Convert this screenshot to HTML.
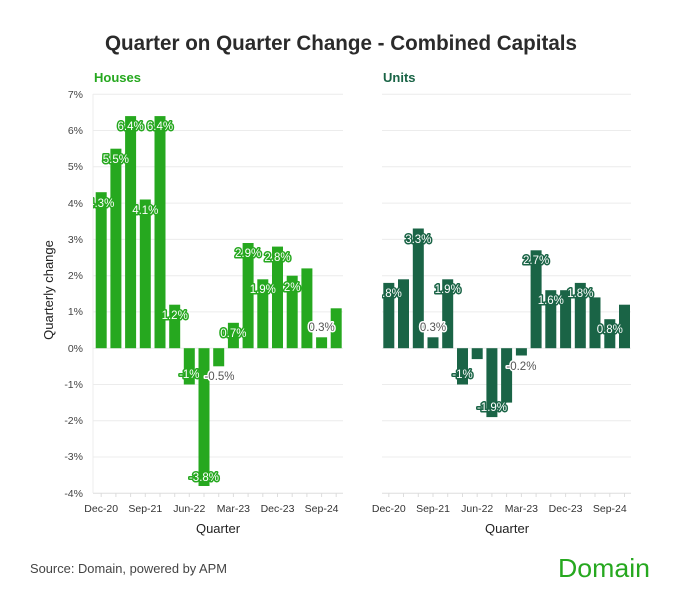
<!DOCTYPE html>
<html><head><meta charset="utf-8"><style>
html,body{margin:0;padding:0;background:#fff;}
svg{display:block;font-family:"Liberation Sans",sans-serif;}
.yt{font-size:10.5px;fill:#444;text-anchor:end;}
.xt{font-size:10.5px;fill:#333;text-anchor:middle;}
.g{stroke:#ececec;stroke-width:1;}
.lh{font-size:11.5px;fill:#fff;stroke:#26a81f;stroke-width:3;paint-order:stroke;stroke-linejoin:round;text-anchor:middle;}
.lu{font-size:11.5px;fill:#fff;stroke:#1a6446;stroke-width:3;paint-order:stroke;stroke-linejoin:round;text-anchor:middle;}
.lg{font-size:11.5px;fill:#555;stroke:#fff;stroke-width:3;paint-order:stroke;stroke-linejoin:round;text-anchor:middle;}
</style></head><body>
<svg width="673" height="596" viewBox="0 0 673 596">
<defs>
<clipPath id="cl"><rect x="93" y="85" width="252" height="420"/></clipPath>
<clipPath id="cr"><rect x="382" y="85" width="252" height="420"/></clipPath>
</defs>
<text x="341" y="50" font-size="21" font-weight="bold" fill="#2b2b2b" text-anchor="middle" textLength="472" lengthAdjust="spacingAndGlyphs">Quarter on Quarter Change - Combined Capitals</text>
<text x="94" y="82" font-size="13" font-weight="bold" fill="#26a81f">Houses</text>
<text x="383" y="82" font-size="13" font-weight="bold" fill="#1a6446">Units</text>

<g class="g">
<line x1="93" x2="343" y1="94.3" y2="94.3"/><line x1="93" x2="343" y1="130.5" y2="130.5"/><line x1="93" x2="343" y1="166.8" y2="166.8"/><line x1="93" x2="343" y1="203.1" y2="203.1"/><line x1="93" x2="343" y1="239.4" y2="239.4"/><line x1="93" x2="343" y1="275.7" y2="275.7"/><line x1="93" x2="343" y1="311.9" y2="311.9"/><line x1="93" x2="343" y1="348.2" y2="348.2"/><line x1="93" x2="343" y1="384.5" y2="384.5"/><line x1="93" x2="343" y1="420.8" y2="420.8"/><line x1="93" x2="343" y1="457" y2="457"/>
<line x1="382" x2="631" y1="94.3" y2="94.3"/><line x1="382" x2="631" y1="130.5" y2="130.5"/><line x1="382" x2="631" y1="166.8" y2="166.8"/><line x1="382" x2="631" y1="203.1" y2="203.1"/><line x1="382" x2="631" y1="239.4" y2="239.4"/><line x1="382" x2="631" y1="275.7" y2="275.7"/><line x1="382" x2="631" y1="311.9" y2="311.9"/><line x1="382" x2="631" y1="348.2" y2="348.2"/><line x1="382" x2="631" y1="384.5" y2="384.5"/><line x1="382" x2="631" y1="420.8" y2="420.8"/><line x1="382" x2="631" y1="457" y2="457"/>
<line x1="93" x2="93" y1="94" y2="493"/>
</g>
<line x1="93" x2="343" y1="493.3" y2="493.3" stroke="#ddd"/>
<line x1="382" x2="631" y1="493.3" y2="493.3" stroke="#ddd"/>
<g stroke="#ddd">
<path d="M101.2 493v4M115.9 493v4M130.6 493v4M145.3 493v4M160 493v4M174.7 493v4M189.3 493v4M204 493v4M218.7 493v4M233.4 493v4M248.1 493v4M262.8 493v4M277.5 493v4M292.2 493v4M306.9 493v4M321.6 493v4M336.2 493v4"/>
<path d="M388.8 493v4M403.5 493v4M418.3 493v4M433 493v4M447.7 493v4M462.5 493v4M477.2 493v4M491.9 493v4M506.6 493v4M521.4 493v4M536.1 493v4M550.8 493v4M565.6 493v4M580.3 493v4M595 493v4M609.8 493v4M624.5 493v4"/>
</g>

<g>
<text class="yt" x="83" y="98">7%</text><text class="yt" x="83" y="134">6%</text><text class="yt" x="83" y="170">5%</text><text class="yt" x="83" y="207">4%</text><text class="yt" x="83" y="243">3%</text><text class="yt" x="83" y="279">2%</text><text class="yt" x="83" y="315">1%</text><text class="yt" x="83" y="352">0%</text><text class="yt" x="83" y="388">-1%</text><text class="yt" x="83" y="424">-2%</text><text class="yt" x="83" y="460">-3%</text><text class="yt" x="83" y="497">-4%</text>
</g>
<text transform="translate(53,290) rotate(-90)" font-size="13" fill="#222" text-anchor="middle">Quarterly change</text>

<g class="xt">
<text x="101.2" y="512">Dec-20</text><text x="145.3" y="512">Sep-21</text><text x="189.3" y="512">Jun-22</text><text x="233.4" y="512">Mar-23</text><text x="277.5" y="512">Dec-23</text><text x="321.6" y="512">Sep-24</text>
<text x="388.8" y="512">Dec-20</text><text x="433" y="512">Sep-21</text><text x="477.2" y="512">Jun-22</text><text x="521.4" y="512">Mar-23</text><text x="565.6" y="512">Dec-23</text><text x="609.8" y="512">Sep-24</text>
</g>
<text x="218" y="533" font-size="13" fill="#222" text-anchor="middle">Quarter</text>
<text x="507" y="533" font-size="13" fill="#222" text-anchor="middle">Quarter</text>

<g fill="#26a81f">
<rect x="95.7" y="192.2" width="11" height="156"/>
<rect x="110.4" y="148.7" width="11" height="199.5"/>
<rect x="125.1" y="116.1" width="11" height="232.1"/>
<rect x="139.8" y="199.5" width="11" height="148.7"/>
<rect x="154.5" y="116.1" width="11" height="232.1"/>
<rect x="169.2" y="304.7" width="11" height="43.5"/>
<rect x="183.8" y="348.2" width="11" height="36.3"/>
<rect x="198.5" y="348.2" width="11" height="137.8"/>
<rect x="213.2" y="348.2" width="11" height="18.1"/>
<rect x="227.9" y="322.8" width="11" height="25.4"/>
<rect x="242.6" y="243" width="11" height="105.2"/>
<rect x="257.3" y="279.3" width="11" height="68.9"/>
<rect x="272" y="246.6" width="11" height="101.6"/>
<rect x="286.7" y="275.7" width="11" height="72.5"/>
<rect x="301.4" y="268.4" width="11" height="79.8"/>
<rect x="316.1" y="337.3" width="11" height="10.9"/>
<rect x="330.7" y="308.3" width="11" height="39.9"/>
</g>
<g fill="#1a6446">
<rect x="383.3" y="282.9" width="11" height="65.3"/>
<rect x="398" y="279.3" width="11" height="68.9"/>
<rect x="412.8" y="228.5" width="11" height="119.7"/>
<rect x="427.5" y="337.3" width="11" height="10.9"/>
<rect x="442.2" y="279.3" width="11" height="68.9"/>
<rect x="457" y="348.2" width="11" height="36.3"/>
<rect x="471.7" y="348.2" width="11" height="10.9"/>
<rect x="486.4" y="348.2" width="11" height="68.9"/>
<rect x="501.1" y="348.2" width="11" height="54.4"/>
<rect x="515.9" y="348.2" width="11" height="7.3"/>
<rect x="530.6" y="250.3" width="11" height="97.9"/>
<rect x="545.3" y="290.2" width="11" height="58"/>
<rect x="560.1" y="290.2" width="11" height="58"/>
<rect x="574.8" y="282.9" width="11" height="65.3"/>
<rect x="589.5" y="297.4" width="11" height="50.8"/>
<rect x="604.3" y="319.2" width="11" height="29"/>
<rect x="619" y="304.7" width="11" height="43.5"/>
</g>

<g clip-path="url(#cl)">
<text class="lh" x="101.2" y="207">4.3%</text>
<text class="lh" x="115.9" y="163">5.5%</text>
<text class="lh" x="130.6" y="130">6.4%</text>
<text class="lh" x="145.3" y="214">4.1%</text>
<text class="lh" x="160" y="130">6.4%</text>
<text class="lh" x="174.7" y="319">1.2%</text>
<text class="lh" x="189.3" y="378">-1%</text>
<text class="lh" x="204" y="481">-3.8%</text>
<text class="lg" x="219.5" y="380">-0.5%</text>
<text class="lh" x="233.4" y="337">0.7%</text>
<text class="lh" x="248.1" y="257">2.9%</text>
<text class="lh" x="262.8" y="293">1.9%</text>
<text class="lh" x="277.5" y="261">2.8%</text>
<text class="lh" x="292.2" y="291">2%</text>
<text class="lg" x="321.6" y="331">0.3%</text>
</g>
<g clip-path="url(#cr)">
<text class="lu" x="388.8" y="297">1.8%</text>
<text class="lu" x="418.3" y="243">3.3%</text>
<text class="lg" x="433" y="331">0.3%</text>
<text class="lu" x="447.7" y="293">1.9%</text>
<text class="lu" x="462.5" y="378">-1%</text>
<text class="lu" x="492" y="411">-1.9%</text>
<text class="lg" x="521.4" y="370">-0.2%</text>
<text class="lu" x="536.1" y="264">2.7%</text>
<text class="lu" x="550.8" y="304">1.6%</text>
<text class="lu" x="580.3" y="297">1.8%</text>
<text class="lu" x="609.8" y="333">0.8%</text>
</g>

<text x="30" y="573" font-size="13" fill="#444" textLength="197" lengthAdjust="spacingAndGlyphs">Source: Domain, powered by APM</text>
<text x="558" y="577" font-size="26" fill="#26a81f" textLength="92" lengthAdjust="spacingAndGlyphs">Domain</text>
</svg>
</body></html>
